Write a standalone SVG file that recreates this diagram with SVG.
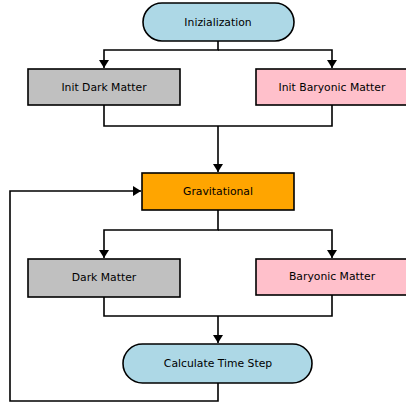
<svg xmlns="http://www.w3.org/2000/svg" width="406" height="407" viewBox="0 0 406 407">
<style>
.n{stroke:#000;stroke-width:1.6}
.t{font-family:"DejaVu Sans",sans-serif;font-size:10.8px;text-anchor:middle;dominant-baseline:central;fill:#000}
.c{fill:none;stroke:#000;stroke-width:1.6}
</style>
<defs>
<marker id="a" markerWidth="8" markerHeight="10" refX="8" refY="5" orient="auto" markerUnits="userSpaceOnUse">
<path d="M0,0 L8,5 L0,10 Z" fill="#000"/>
</marker>
</defs>
<rect width="406" height="407" fill="#fff"/>
<g id="connectors">
<path class="c" d="M218,41 V50 H104 V68" marker-end="url(#a)"/>
<path class="c" d="M218,50 H332 V68" marker-end="url(#a)"/>
<path class="c" d="M104,105 V126 H332 V105"/>
<path class="c" d="M218,126 V172" marker-end="url(#a)"/>
<path class="c" d="M218,210 V230 H104 V258" marker-end="url(#a)"/>
<path class="c" d="M218,230 H332 V258" marker-end="url(#a)"/>
<path class="c" d="M104,297 V316 H332 V295"/>
<path class="c" d="M218,316 V343" marker-end="url(#a)"/>
<path class="c" d="M218,383 V401 H10 V191 H141" marker-end="url(#a)"/>
</g>
<g id="init">
<rect class="n" x="143" y="3" width="151" height="38" rx="19" fill="#add8e6"/>
<text class="t" x="218" y="22">Inizialization</text>
</g>
<g id="initDark">
<rect class="n" x="28" y="69" width="152" height="36" fill="#c0c0c0"/>
<text class="t" x="104" y="87">Init Dark Matter</text>
</g>
<g id="initBaryonic">
<rect class="n" x="256" y="69" width="152" height="36" fill="#ffc0cb"/>
<text class="t" x="332" y="87">Init Baryonic Matter</text>
</g>
<g id="gravitational">
<rect class="n" x="142" y="173" width="152" height="37" fill="#ffa500"/>
<text class="t" x="218" y="191">Gravitational</text>
</g>
<g id="dark">
<rect class="n" x="28" y="259" width="152" height="38" fill="#c0c0c0"/>
<text class="t" x="104" y="277">Dark Matter</text>
</g>
<g id="baryonic">
<rect class="n" x="256" y="259" width="152" height="36" fill="#ffc0cb"/>
<text class="t" x="332" y="276">Baryonic Matter</text>
</g>
<g id="timestep">
<rect class="n" x="123" y="344" width="189" height="39" rx="19.5" fill="#add8e6"/>
<text class="t" x="218" y="363">Calculate Time Step</text>
</g>
</svg>
